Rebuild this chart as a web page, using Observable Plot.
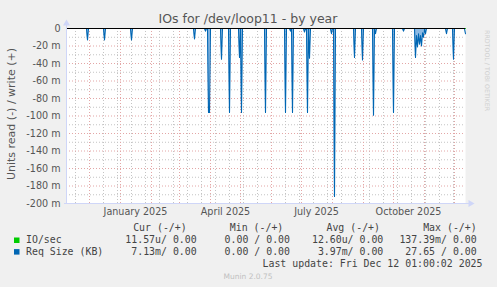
<!DOCTYPE html>
<html><head><meta charset="utf-8">
<script src="https://cdn.jsdelivr.net/npm/d3@7"></script>
<script src="https://cdn.jsdelivr.net/npm/@observablehq/plot@0.6"></script>
<style>
html,body{margin:0;padding:0;background:#f0f0f0;}
#wrap{position:relative;width:497px;height:287px;background:#f0f0f0;overflow:hidden;}
#wrap svg{position:absolute;left:0;top:0;}
</style></head><body><div id="wrap"></div>
<script>
const title = "IOs for /dev/loop11 - by year";
const yLabel = "Units read (-) / write (+)";
const watermark = "RRDTOOL / TOBI OETIKER";
const footer = "Munin 2.0.75";
const lastUpdate = "Last update: Fri Dec 12 01:00:02 2025";

// read Req Size (milli-units, shown negative = read)
const spikeDates = ["2024-11-29","2024-12-16","2025-01-12","2025-03-16","2025-03-27","2025-03-30","2025-03-31",
  "2025-04-12","2025-04-20","2025-04-30","2025-05-02","2025-05-26","2025-06-15","2025-06-20","2025-06-22",
  "2025-07-04","2025-07-07","2025-07-09","2025-07-31","2025-08-03","2025-08-23","2025-08-31","2025-09-11",
  "2025-09-13","2025-10-01","2025-10-11","2025-10-23","2025-10-24","2025-10-25","2025-10-26","2025-10-27",
  "2025-10-28","2025-10-29","2025-10-30","2025-10-31","2025-11-02","2025-11-23","2025-11-30","2025-12-12"];
const reqSizeRead = [-13,-13,-13,-12,-3,-96,-96,
  -35,-96,-33,-96,-96,-96,-3,-96,
  -4,-96,-34,-6,-192,-33,-36,-99,
  -6,-96,-3,-33,-8,-21,-6,-18,
  -8,-20,-5,-10,-6,-6,-35,-6];
// read IO/sec (milli-units, tiny)
const ioDates = ["2025-04-12","2025-07-09"];
const ioRead = [-0.2,-0.2];

const xStartStr = "2024-11-08", xEndStr = "2025-12-12";
const yTicks = [0,-20,-40,-60,-80,-100,-120,-140,-160,-180,-200];
const yMinorTicks = [-10,-30,-50,-70,-90,-110,-130,-150,-170,-190];
const xTickDates = ["2025-01-16","2025-04-16","2025-07-16","2025-10-16"];
const xTickLabels = ["January 2025","April 2025","July 2025","October 2025"];

const legendNames = ["IO/sec","Req Size (KB)"];
const legendColors = ["#00CC00","#0066B3"];
const legendHeaders = ["Cur (-/+)","Min (-/+)","Avg (-/+)","Max (-/+)"];
const legendCur = ["11.57u/ 0.00","7.13m/ 0.00"];
const legendMin = ["0.00 / 0.00","0.00 / 0.00"];
const legendAvg = ["12.60u/ 0.00","3.97m/ 0.00"];
const legendMax = ["137.39m/ 0.00","27.65 / 0.00"];

const parse = d3.utcParse("%Y-%m-%d");
const fmt = d3.utcFormat("%Y-%m-%d");
const xStart = parse(xStartStr), xEnd = parse(xEndStr);
const days = d3.utcDay.range(xStart, d3.utcDay.offset(xEnd, 1));
const reqMap = new Map(spikeDates.map((d,i)=>[d, reqSizeRead[i]]));
const ioMap = new Map(ioDates.map((d,i)=>[d, ioRead[i]]));
const reqSeries = days.map(d => ({date: d, value: reqMap.get(fmt(d)) ?? 0}));
const ioSeries = days.map(d => ({date: d, value: ioMap.get(fmt(d)) ?? 0}));

const monthLines = d3.utcMonth.range(d3.utcDay.offset(xStart,1), xEnd);
const anchor = parse("2024-12-29");
const biweekly = [];
for (let k=-5;k<40;k++){ const d = d3.utcDay.offset(anchor, 14*k); if (d> xStart && d<=xEnd) biweekly.push(d); }
const xTicks = xTickDates.map(parse);

const axisCol = "#CFD6F8";
const chart = Plot.plot({
  width: 497, height: 287,
  marginLeft: 66, marginRight: 32, marginTop: 28, marginBottom: 84,
  style: {fontFamily: "DejaVu Sans", fontSize: "9.6px", color: "#555", background: "transparent", overflow: "visible"},
  x: {type: "utc", domain: [xStart, xEnd]},
  y: {domain: [-200, 0]},
  marks: [
    Plot.frame({fill: "white", stroke: null}),
    Plot.ruleX(biweekly, {stroke: "#c4c4c4", strokeDasharray: "1,2"}),
    Plot.ruleY(yMinorTicks, {stroke: "#c4c4c4", strokeDasharray: "1,2"}),
    Plot.ruleX(monthLines, {stroke: "#e3a6a6", strokeDasharray: "1,2"}),
    Plot.ruleY(yTicks.filter(t=>t!==0), {stroke: "#e3a6a6", strokeDasharray: "1,2"}),
    Plot.line(ioSeries, {x: "date", y: "value", stroke: "#00CC00", strokeWidth: 1}),
    Plot.areaY(reqSeries, {x: "date", y: "value", fill: "#6fa8dc", fillOpacity: 0.8}),
    Plot.line(reqSeries, {x: "date", y: "value", stroke: "#0066B3", strokeWidth: 1.1}),
    Plot.ruleY([0], {stroke: "#000", strokeWidth: 1}),
    Plot.ruleX([xStart], {stroke: axisCol, insetTop: -4}),
    Plot.ruleY([-200], {stroke: axisCol, insetRight: -4, insetLeft: -2}),
    Plot.dot([xStart], {x: d=>d, y: ()=>0, dy: -5, symbol: "triangle", r: 2.6, fill: axisCol, stroke: null}),
    Plot.dot([xEnd], {x: d=>d, y: ()=>-200, dx: 5, symbol: "triangle", r: 2.6, rotate: 90, fill: axisCol, stroke: null}),
    Plot.axisY(yTicks, {tickSize: 0, tickPadding: 6, label: null, fill: "#555",
      tickFormat: d => d === 0 ? "0" : `${d} m`}),
    Plot.axisX(xTicks, {tickSize: 0, tickPadding: 4.5, label: null, fill: "#555",
      tickFormat: (d,i) => xTickLabels[i]})
  ]
});
const wrap = document.getElementById("wrap");
wrap.appendChild(chart);

// overlay texts
const ov = d3.select(wrap).append("svg").attr("width",497).attr("height",287)
  .style("pointer-events","none");
ov.append("text").attr("x",248).attr("y",23).attr("text-anchor","middle")
  .attr("font-family","DejaVu Sans").attr("font-size",12.5).attr("fill","#555").text(title);
ov.append("text").attr("transform","translate(14.5,114) rotate(-90)").attr("text-anchor","middle")
  .attr("font-family","DejaVu Sans").attr("font-size",11).attr("fill","#555").text(yLabel);
ov.append("text").attr("transform","translate(485,30) rotate(90)").attr("text-anchor","start")
  .attr("font-family","DejaVu Sans").attr("font-size",6.3).attr("fill","#cfcfcf").text(watermark);

const mono = {family: "DejaVu Sans Mono", size: 9.9, fill: "#444"};
function mtext(x, y, s, anchorSide){
  ov.append("text").attr("x",x).attr("y",y).attr("text-anchor",anchorSide||"start")
    .attr("font-family",mono.family).attr("font-size",mono.size).attr("fill",mono.fill)
    .attr("xml:space","preserve").style("white-space","pre").text(s);
}
const headerEnds = [186.7, 283.3, 380, 476.7];
legendHeaders.forEach((h,i)=>mtext(headerEnds[i], 231.3, h, "end"));
const valueEnds = [196.7, 290, 383.3, 476.7];
const rowY = [243, 254.6];
legendNames.forEach((n,i)=>{
  ov.append("rect").attr("x",14).attr("y",rowY[i]-5.5).attr("width",5.5).attr("height",5.5).attr("fill",legendColors[i]);
  mtext(26, rowY[i], n);
  mtext(valueEnds[0], rowY[i], legendCur[i], "end");
  mtext(valueEnds[1], rowY[i], legendMin[i], "end");
  mtext(valueEnds[2], rowY[i], legendAvg[i], "end");
  mtext(valueEnds[3], rowY[i], legendMax[i], "end");
});
mtext(482.5, 266.8, lastUpdate, "end");
ov.append("text").attr("x",248).attr("y",278.8).attr("text-anchor","middle")
  .attr("font-family","DejaVu Sans").attr("font-size",7.5).attr("fill","#c0c0c0").text(footer);
</script></body></html>
